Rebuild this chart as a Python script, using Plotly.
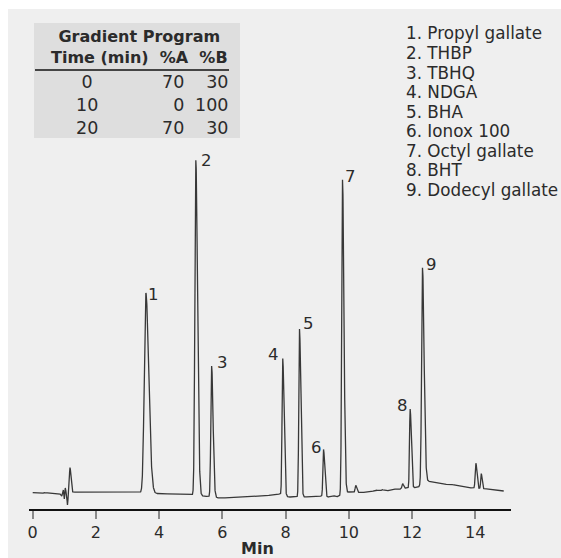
import numpy as np
import plotly.graph_objects as go

# ---- chromatogram data -------------------------------------------------
# Named analyte peaks: retention time (min), height above baseline, width (min)
peak_ids = ["1", "2", "3", "4", "5", "6", "7", "8", "9"]
peak_names = ["Propyl gallate", "THBP", "TBHQ", "NDGA", "BHA",
              "Ionox 100", "Octyl gallate", "BHT", "Dodecyl gallate"]
peak_times = [3.58, 5.16, 5.66, 7.91, 8.44, 9.20, 9.80, 11.94, 12.33]
peak_heights = [20.0, 33.5, 13.1, 13.65, 16.8, 4.7, 31.5, 7.9, 21.6]
peak_widths = [0.050, 0.030, 0.025, 0.022, 0.022, 0.020, 0.025, 0.020, 0.028]

# Unlabelled minor peaks (void marker, small impurities, late eluters)
minor_times = [1.18, 10.22, 11.70, 14.02, 14.19]
minor_heights = [2.45, 0.7, 0.5, 2.5, 1.5]
minor_widths = [0.020, 0.020, 0.020, 0.022, 0.018]

# Baseline trace (time, signal) including the injection disturbance
baseline_t = [0.0, 0.2, 0.3, 0.35, 0.6, 0.85, 0.92, 0.97, 1.0, 1.03, 1.07,
              1.1, 1.14, 1.3, 2.0, 3.3, 3.85, 4.5, 4.9, 5.4, 5.9, 6.5, 7.0,
              7.4, 7.6, 7.8, 8.1, 8.35, 8.6, 8.9, 9.1, 9.35, 9.5, 9.6, 9.7,
              10.0, 10.4, 10.7, 10.85, 11.0, 11.05, 11.2, 11.4, 11.55, 11.8,
              12.0, 12.2, 12.45, 12.7, 13.0, 13.2, 13.4, 13.6, 13.9, 14.4,
              14.6, 14.9]
baseline_v = [1.63, 1.6, 1.52, 1.65, 1.6, 1.55, 1.3, 1.9, 1.0, 2.1, 1.5,
              0.4, 1.7, 1.7, 1.65, 1.65, 1.55, 1.5, 1.45, 1.3, 1.1, 1.15, 1.2,
              1.3, 1.45, 1.5, 1.2, 1.2, 1.2, 1.3, 1.3, 1.2, 1.35, 1.2, 1.3,
              1.7, 1.65, 1.7, 1.9, 1.8, 1.95, 1.8, 2.0, 1.95, 2.1,
              2.1, 2.2, 2.8, 2.7, 2.45, 2.5, 2.35, 2.25, 2.1, 2.0,
              1.9, 1.8]

# Gradient program table
grad_time = [0, 10, 20]
grad_a = [70, 0, 70]
grad_b = [30, 100, 30]

x_ticks = [0, 2, 4, 6, 8, 10, 12, 14]
x_title = "Min"

# ---- build the detector trace ----------------------------------------
t = np.arange(0.0, 14.9 + 1e-9, 0.002)
signal = np.interp(t, baseline_t, baseline_v)


def tailed_peak(tt, t0, h, s, tail=1.8):
    """Gaussian with a broader trailing edge (peak tailing)."""
    sig = np.where(tt < t0, s, s * tail)
    return h * np.exp(-0.5 * ((tt - t0) / sig) ** 2)


for t0, h, s in zip(peak_times, peak_heights, peak_widths):
    signal = signal + tailed_peak(t, t0, h, s)
for t0, h, s in zip(minor_times, minor_heights, minor_widths):
    signal = signal + tailed_peak(t, t0, h, s, tail=1.4)

# ---- figure geometry (pixels) ----------------------------------------
W, H = 561, 558
ML, MR, MT, MB = 29, 50, 0, 49
PW, PH = W - ML - MR, H - MT - MB
FONT = "DejaVu Sans"
INK = "#2b2b2b"


def px(x):
    return (x - ML) / PW


def py(y):
    return (H - MB - y) / PH


def text_note(x, y, text, size, xanchor="center", align="center"):
    return dict(x=px(x), y=py(y), xref="paper", yref="paper", text=text,
                showarrow=False, xanchor=xanchor, yanchor="middle",
                align=align, borderpad=0,
                font=dict(family=FONT, size=size, color=INK))


fig = go.Figure()
fig.add_trace(go.Scatter(x=t, y=signal, mode="lines",
                         line=dict(color="#383838", width=1.3),
                         hoverinfo="skip", showlegend=False))

# apex value of each labelled peak, taken from the trace itself
apex = [float(np.interp(pt, t, signal)) for pt in peak_times]
label_dx = [8, 11, 11, -9, 9, -7, 8, -8, 9]
label_dy = [-1, 0, 4, 4, 6, 2, 3, 4, 3]

annotations = []
for pid, pt, pv, dx, dy in zip(peak_ids, peak_times, apex, label_dx, label_dy):
    annotations.append(dict(x=pt, y=pv, xref="x", yref="y", text=pid,
                            showarrow=False, xshift=dx, yshift=dy,
                            font=dict(family=FONT, size=16.5, color=INK)))

# compound key on the right
for i, (pid, name) in enumerate(zip(peak_ids, peak_names)):
    annotations.append(text_note(405, 33.5 + 19.55 * i, f"{pid}. {name}",
                                 16.8, xanchor="left", align="left"))

# gradient table: title + column header block
annotations.append(text_note(
    139, 46.5,
    "<b>Gradient Program</b><br>"
    "<b>Time (min)&nbsp;&nbsp;%A&nbsp;&nbsp;%B</b>", 16))
# table body, one block per column
annotations.append(text_note(87, 105, "<br>".join(str(v) for v in grad_time),
                             17.5))
annotations.append(text_note(185, 105, "<br>".join(str(v) for v in grad_a),
                             17.5, xanchor="right", align="right"))
annotations.append(text_note(229, 105, "<br>".join(str(v) for v in grad_b),
                             17.5, xanchor="right", align="right"))

# time-axis caption under the tick labels
annotations.append(text_note(257.5, 548.4, f"<b>{x_title}</b>", 16))

shapes = [
    # white margin strips along the top and left edges
    dict(type="rect", xref="paper", yref="paper", x0=px(0), x1=px(W),
         y0=py(9), y1=py(0), fillcolor="white", line_width=0, layer="below"),
    dict(type="rect", xref="paper", yref="paper", x0=px(0), x1=px(8),
         y0=py(H), y1=py(0), fillcolor="white", line_width=0, layer="below"),
    # table panel and header rule
    dict(type="rect", xref="paper", yref="paper", x0=px(34), x1=px(240),
         y0=py(138), y1=py(23), fillcolor="#dedede", line_width=0,
         layer="below"),
    dict(type="line", xref="paper", yref="paper", x0=px(35), x1=px(229),
         y0=py(70), y1=py(70), line=dict(color="#111111", width=1.6)),
]

fig.update_layout(
    width=W, height=H,
    margin=dict(l=ML, r=MR, t=MT, b=MB),
    paper_bgcolor="#efefef", plot_bgcolor="#efefef",
    annotations=annotations, shapes=shapes,
    xaxis=dict(range=[-0.117, 15.13], tickvals=x_ticks, automargin=False,
               ticks="outside", ticklen=8, tickwidth=1.5, tickcolor="#8a8a8a",
               showline=True, linecolor="#111111", linewidth=2.2,
               showgrid=False, zeroline=False,
               tickfont=dict(family=FONT, size=16, color=INK)),
    yaxis=dict(range=[0, 50.9], visible=False, showgrid=False,
               automargin=False),
)

fig.write_html("out.html")
